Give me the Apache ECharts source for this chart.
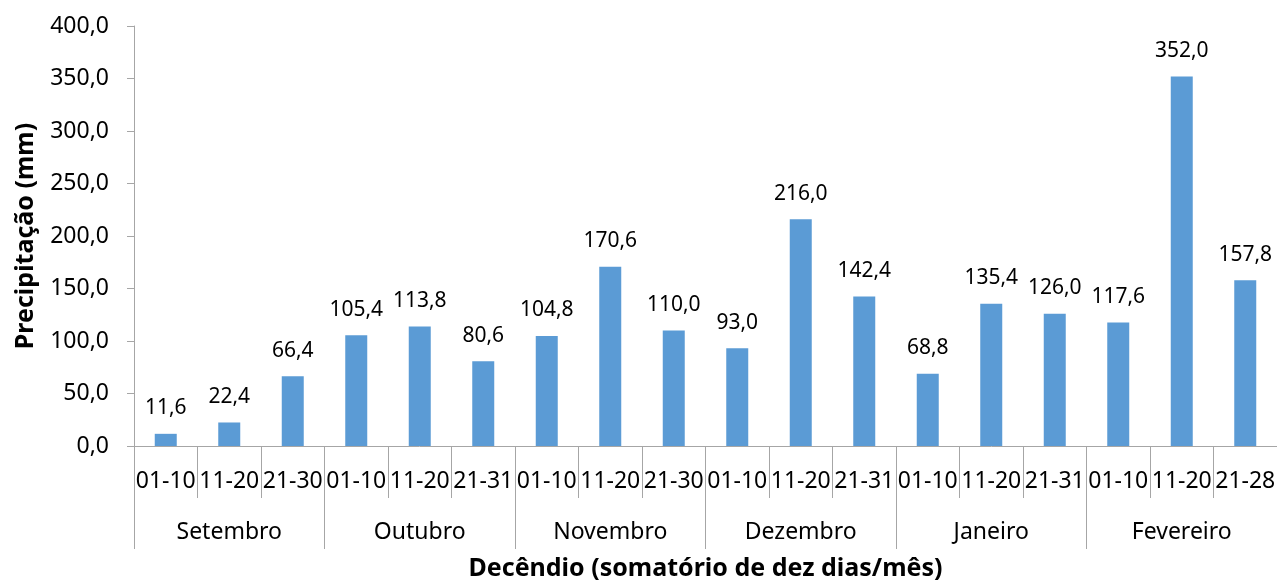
<!DOCTYPE html>
<html><head><meta charset="utf-8">
<script src="https://cdn.jsdelivr.net/npm/echarts@6/dist/echarts.min.js"></script>
<style>html,body{margin:0;padding:0;background:#fff}#c{width:1277px;height:586px}</style>
</head><body><div id="c"></div>
<script>
const decendios = ["01-10","11-20","21-30","01-10","11-20","21-31","01-10","11-20","21-30","01-10","11-20","21-31","01-10","11-20","21-31","01-10","11-20","21-28"];
const meses = ["Setembro","Outubro","Novembro","Dezembro","Janeiro","Fevereiro"];
const precipitacao = [11.6,22.4,66.4,105.4,113.8,80.6,104.8,170.6,110.0,93.0,216.0,142.4,68.8,135.4,126.0,117.6,352.0,157.8];
const yTicks = {min:0, max:400, interval:50};

const FONT = "Noto Sans";
const fmt = v => v.toFixed(1).replace('.', ',');
const chart = echarts.init(document.getElementById('c'), null, {renderer:'canvas'});
chart.setOption({
  animation:false,
  textStyle:{fontFamily:FONT},
  grid:{left:134, right:0, top:26, bottom:140, containLabel:false, outerBoundsMode:'none'},
  xAxis:[{
    type:'category', data:decendios, position:'bottom',
    axisLine:{show:true, lineStyle:{color:'#a6a6a6', width:1}},
    axisTick:{show:true, length:52, interval:0, lineStyle:{color:'#a6a6a6'}},
    axisLabel:{interval:0, margin:24, fontSize:23, color:'#000', fontFamily:FONT},
    name:'Decêndio (somatório de dez dias/mês)', nameLocation:'middle', nameGap:110,
    nameTextStyle:{fontSize:25, fontWeight:'bold', color:'#000', fontFamily:FONT}
  },{
    type:'category', data:meses, position:'bottom', offset:0,
    axisLine:{show:false},
    axisTick:{show:true, length:103, interval:0, lineStyle:{color:'#a6a6a6'}},
    axisLabel:{interval:0, margin:75, fontSize:23, color:'#000', fontFamily:FONT}
  }],
  yAxis:{
    type:'value', min:yTicks.min, max:yTicks.max, interval:yTicks.interval,
    axisLine:{show:true, lineStyle:{color:'#a6a6a6'}},
    axisTick:{show:true, length:7, lineStyle:{color:'#a6a6a6'}},
    splitLine:{show:false},
    axisLabel:{formatter:v=>fmt(v), fontSize:23, color:'#000', margin:25, fontFamily:FONT},
    name:'Precipitação (mm)', nameLocation:'middle', nameGap:96,
    nameTextStyle:{fontSize:25, fontWeight:'bold', color:'#000', fontFamily:FONT}
  },
  series:[{
    type:'bar', data:precipitacao, xAxisIndex:0, barWidth:22,
    itemStyle:{color:'#5b9bd5'},
    label:{show:true, position:'top', distance:15, formatter:p=>fmt(p.value), fontSize:21, color:'#000', fontFamily:FONT}
  }]
});
</script></body></html>
